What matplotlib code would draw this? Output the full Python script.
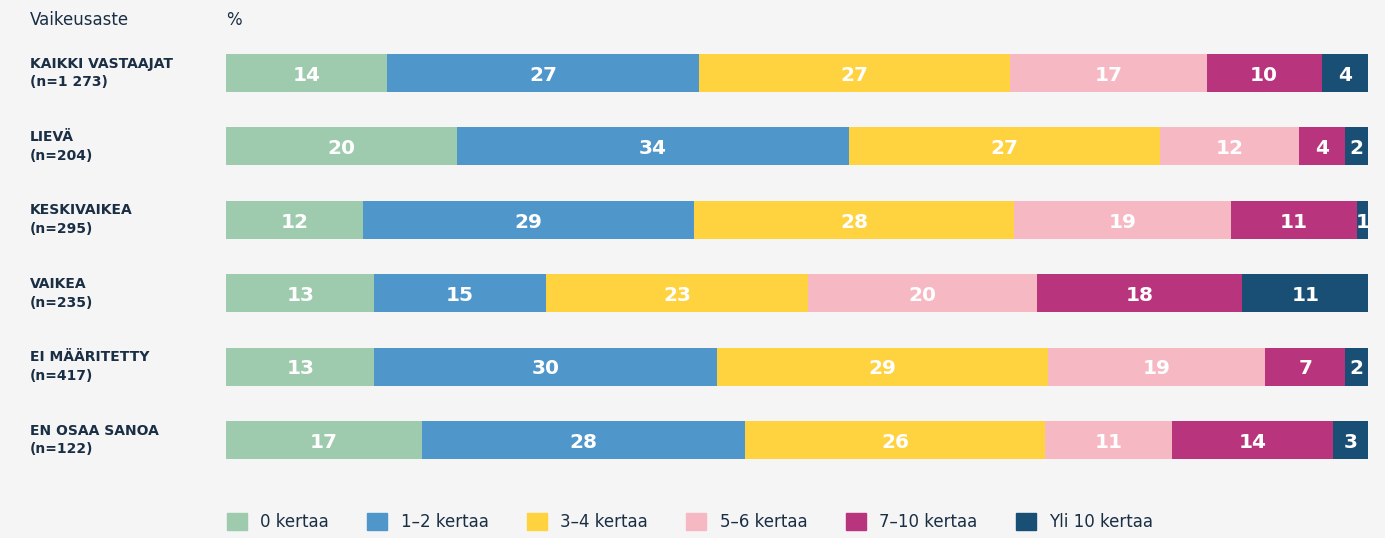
import numpy as np
import matplotlib.pyplot as plt
from matplotlib.patches import Patch

plt.rcParams['font.family'] = ['DejaVu Sans']

groups = ["KAIKKI VASTAAJAT\n(n=1 273)", "LIEVÄ\n(n=204)", "KESKIVAIKEA\n(n=295)",
          "VAIKEA\n(n=235)", "EI MÄÄRITETTY\n(n=417)", "EN OSAA SANOA\n(n=122)"]
series = ["0 kertaa", "1–2 kertaa", "3–4 kertaa", "5–6 kertaa", "7–10 kertaa", "Yli 10 kertaa"]
colors = ["#9ecaae", "#4f96cb", "#ffd23f", "#f6b8c3", "#b8347c", "#1a4f75"]
values = np.array([
    [14, 27, 27, 17, 10, 4],
    [20, 34, 27, 12, 4, 2],
    [12, 29, 28, 19, 11, 1],
    [13, 15, 23, 20, 18, 11],
    [13, 30, 29, 19, 7, 2],
    [17, 28, 26, 11, 14, 3],
])

bg = "#f5f5f5"
txt = "#1a2e44"
W, H = 1385, 538
fig = plt.figure(figsize=(W / 100, H / 100), dpi=100, facecolor=bg)

left, right = 226 / W, 1368 / W
ax = fig.add_axes([left, 0, right - left, 1])
ax.set_facecolor(bg)
pitch = 73.4
ax.set_ylim((H - 73) / pitch, -73 / pitch)
ax.set_xlim(0, 100)
ax.axis("off")

# normalise each row to full width
shares = values / values.sum(axis=1, keepdims=True) * 100
y = np.arange(len(groups))
start = np.zeros(len(groups))
for j, name in enumerate(series):
    ax.barh(y, shares[:, j], left=start, height=0.52, color=colors[j], label=name)
    for i in range(len(groups)):
        ax.text(start[i] + shares[i, j] / 2, y[i] + 0.03, str(values[i, j]),
                ha="center", va="center", color="white", fontsize=14.5, fontweight="bold")
    start += shares[:, j]

for i, g in enumerate(groups):
    fig.text(30 / W, 1 - (73 + pitch * i) / H, g, ha="left", va="center",
             fontsize=10, fontweight="bold", color=txt, linespacing=1.45)

fig.text(30 / W, 1 - 20 / H, "Vaikeusaste", fontsize=12, color=txt, va="center")
fig.text(226 / W, 1 - 20 / H, "%", fontsize=12, color=txt, va="center")

handles = [Patch(color=c, label=s) for c, s in zip(colors, series)]
fig.legend(handles=handles, loc="center left", bbox_to_anchor=(212 / W, 1 - 522 / H),
           ncol=6, frameon=False, prop={"size": 12},
           handlelength=1.2, handleheight=1.2,
           columnspacing=2.3, handletextpad=0.8, labelcolor=txt)

fig.savefig("out.png", dpi=100, facecolor=bg)
